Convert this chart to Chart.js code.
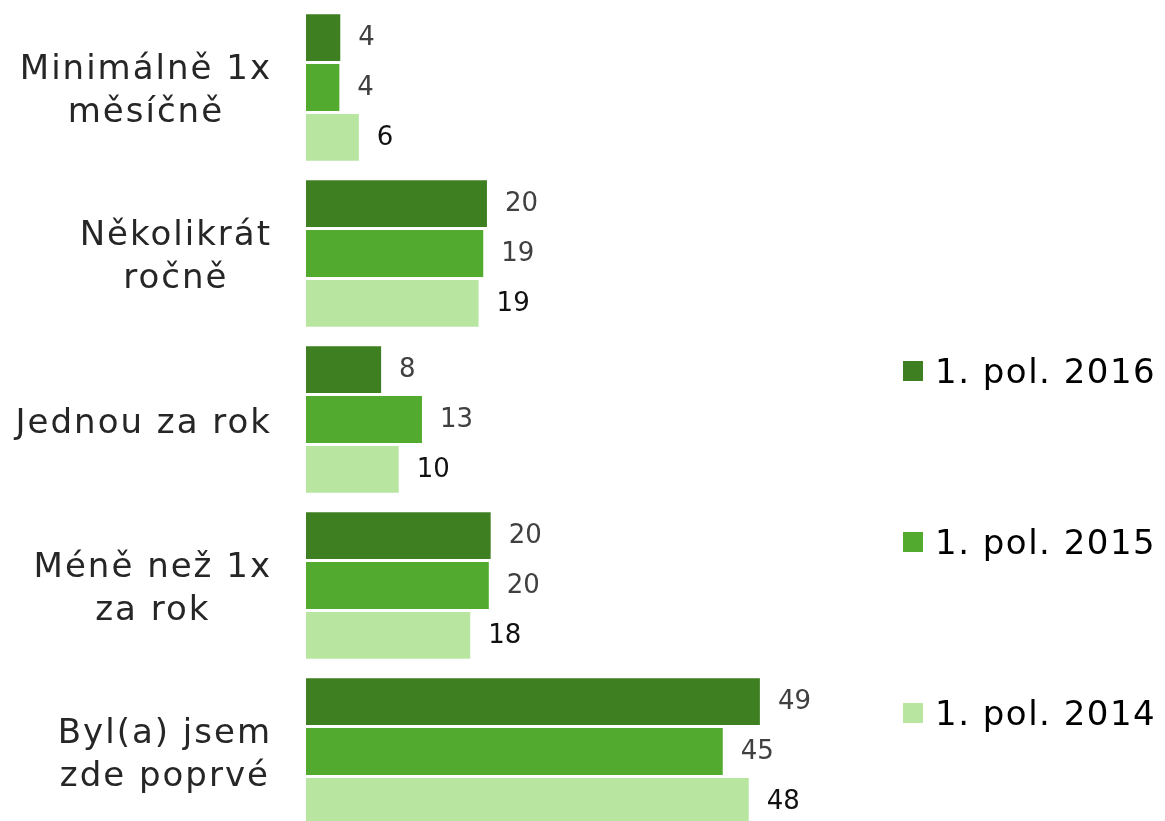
<!DOCTYPE html>
<html>
<head>
<meta charset="utf-8">
<script src="https://cdn.jsdelivr.net/npm/chart.js@4/dist/chart.umd.min.js"></script>
<style>
  html, body { margin: 0; padding: 0; background: #fff; overflow: hidden; }
  #wrap { position: relative; width: 1165px; height: 821px; }
  #legend { position: absolute; left: 903px; top: 0; font-family: "DejaVu Sans", sans-serif; font-size: 34px; letter-spacing: 1.5px; color: #000; }
  .item { position: absolute; left: 0; white-space: nowrap; display: flex; align-items: center; height: 40px; }
  .box { width: 20px; height: 20px; margin-right: 12px; }
</style>
</head>
<body>
<div id="wrap">
  <canvas id="chart" width="1165" height="840"></canvas>
  <div id="legend"></div>
</div>
<script>
const categories = [
  ['Minimálně 1x', 'měsíčně'],
  ['Několikrát', 'ročně'],
  ['Jednou za rok'],
  ['Méně než 1x', 'za rok'],
  ['Byl(a) jsem', 'zde poprvé']
];
const seriesNames = ['1. pol. 2016', '1. pol. 2015', '1. pol. 2014'];
const values2016 = [3.8, 19.6, 8.2, 20.0, 49.0];
const values2015 = [3.7, 19.2, 12.6, 19.8, 45.0];
const values2014 = [5.8, 18.7, 10.1, 17.8, 47.8];
const colors = ['#3e7f22', '#52ab2f', '#b8e6a1'];
const labelColors = ['#404040', '#404040', '#111111'];

const FONT = '"DejaVu Sans", sans-serif';

// category labels: lines centered on each other, block right-aligned
const categoryLabels = {
  id: 'categoryLabels',
  afterDraw(chart) {
    const ctx = chart.ctx;
    const y = chart.scales.y;
    const right = chart.chartArea.left - 36;
    const lh = 43;
    const ls = 2;
    ctx.save();
    ctx.font = '34px ' + FONT;
    ctx.letterSpacing = ls + 'px';
    ctx.fillStyle = '#262626';
    ctx.textAlign = 'center';
    ctx.textBaseline = 'alphabetic';
    categories.forEach((lines, i) => {
      const w = Math.max(...lines.map(l => ctx.measureText(l).width - ls));
      const cx = right - w / 2;
      const cy = y.getPixelForTick(i);
      lines.forEach((l, j) => {
        ctx.fillText(l, cx + ls / 2, cy + (j - (lines.length - 1) / 2) * lh + 13);
      });
    });
    ctx.restore();
  }
};

// value labels at the end of each bar
const valueLabels = {
  id: 'valueLabels',
  afterDatasetsDraw(chart) {
    const ctx = chart.ctx;
    ctx.save();
    ctx.font = '26px ' + FONT;
    ctx.textAlign = 'left';
    ctx.textBaseline = 'middle';
    chart.data.datasets.forEach((ds, di) => {
      const meta = chart.getDatasetMeta(di);
      ctx.fillStyle = labelColors[di];
      meta.data.forEach((bar, i) => {
        ctx.fillText(Math.round(ds.data[i]), bar.x + 17, bar.y + 1);
      });
    });
    ctx.restore();
  }
};

const datasets = [values2016, values2015, values2014].map((vals, i) => ({
  label: seriesNames[i],
  data: vals,
  backgroundColor: colors[i],
  borderColor: 'rgba(255,255,255,0.25)',
  borderWidth: 1,
  barPercentage: 0.98,
  categoryPercentage: 0.9
}));

new Chart(document.getElementById('chart'), {
  type: 'bar',
  data: { labels: categories, datasets: datasets },
  options: {
    indexAxis: 'y',
    responsive: false,
    animation: false,
    layout: { padding: { top: 4.5, bottom: 5.5, right: 302, left: 0 } },
    plugins: { legend: { display: false }, tooltip: { enabled: false } },
    scales: {
      x: { display: false, min: 0, max: 60 },
      y: {
        grid: { display: false },
        border: { display: false },
        ticks: { display: false },
        afterFit: scale => { scale.width = 306; }
      }
    }
  },
  plugins: [categoryLabels, valueLabels]
});

const legend = document.getElementById('legend');
const legendY = [371, 542, 713];
seriesNames.forEach((name, i) => {
  const item = document.createElement('div');
  item.className = 'item';
  item.style.top = (legendY[i] - 20) + 'px';
  const box = document.createElement('span');
  box.className = 'box';
  box.style.background = colors[i];
  item.appendChild(box);
  item.appendChild(document.createTextNode(name));
  legend.appendChild(item);
});
</script>
</body>
</html>
